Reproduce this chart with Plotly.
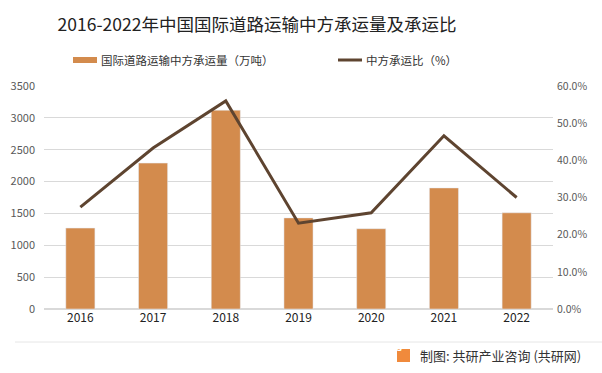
import plotly.graph_objects as go

years = ["2016", "2017", "2018", "2019", "2020", "2021", "2022"]
volume = [1270, 2290, 3120, 1430, 1260, 1900, 1510]          # 万吨
share = [27.4, 43.3, 56.0, 23.1, 25.9, 46.6, 30.0]           # %

left_ticks = [0, 500, 1000, 1500, 2000, 2500, 3000, 3500]
right_ticks = [0, 10, 20, 30, 40, 50, 60]
right_labels = ["0.0%", "10.0%", "20.0%", "30.0%", "40.0%", "50.0%", "60.0%"]

bar_name = "国际道路运输中方承运量（万吨）"
line_name = "中方承运比（%）"

BAR = "#D38B4D"
LINE = "#5E4430"
FONT = "Noto Sans CJK SC, Noto Sans, sans-serif"

fig = go.Figure()
fig.add_trace(go.Bar(x=years, y=volume, name=bar_name, marker_color=BAR, yaxis="y",
                     showlegend=False))
fig.add_trace(go.Scatter(x=years, y=share, name=line_name, mode="lines",
                         line=dict(color=LINE, width=3), yaxis="y2", showlegend=False))

W, H = 602, 373
x0, x1 = 44, 553
y_top, y_bot = 86, 309


def px(x):
    return x / W


def py(y):
    return 1 - y / H


fig.update_layout(
    width=W, height=H,
    margin=dict(l=0, r=0, t=0, b=0),
    paper_bgcolor="white", plot_bgcolor="white",
    font=dict(family=FONT, color="#595959", size=11),
    bargap=0.6,
    showlegend=False,
    title=dict(text="2016-2022年中国国际道路运输中方承运量及承运比",
               x=px(257), xanchor="center", y=py(25), yanchor="middle",
               font=dict(size=17.5, color="#222222", family=FONT)),
    xaxis=dict(domain=[px(x0), px(x1)], showgrid=False, showline=False, ticks="",
               tickfont=dict(size=12, color="#222222"), anchor="y", automargin=False),
    yaxis=dict(domain=[py(y_bot), py(y_top)], range=[0, 3500],
               tickvals=left_ticks, showgrid=True, gridcolor="#D9D9D9", gridwidth=1,
               zeroline=True, zerolinecolor="#D9D9D9", showline=False, ticks="",
               tickfont=dict(size=11, color="#595959"), ticklabelstandoff=8,
               automargin=False),
    yaxis2=dict(overlaying="y", side="right", range=[0, 60], tickvals=right_ticks,
                ticktext=right_labels, showgrid=False, zeroline=False, showline=False,
                ticks="", tickfont=dict(size=10.5, color="#595959"), ticklabelstandoff=3,
                automargin=False),
)

# manual legend
fig.add_shape(type="rect", xref="paper", yref="paper", x0=px(73), x1=px(97),
              y0=py(63), y1=py(57), fillcolor=BAR, line=dict(width=0))
fig.add_annotation(xref="paper", yref="paper", x=px(99), y=py(60), xanchor="left",
                   yanchor="middle", text=bar_name, showarrow=False,
                   font=dict(size=11.5, color="#333333", family=FONT))
fig.add_shape(type="line", xref="paper", yref="paper", x0=px(338), x1=px(362),
              y0=py(60), y1=py(60), line=dict(color=LINE, width=3))
fig.add_annotation(xref="paper", yref="paper", x=px(364), y=py(60), xanchor="left",
                   yanchor="middle", text=line_name, showarrow=False,
                   font=dict(size=11.5, color="#333333", family=FONT))

# footer
fig.add_shape(type="line", xref="paper", yref="paper", x0=px(15), x1=1, y0=py(342),
              y1=py(342), line=dict(color="#E6E6E6", width=1))
fig.add_shape(type="rect", xref="paper", yref="paper", x0=px(397), x1=px(410),
              y0=py(362), y1=py(349), fillcolor="#F08A3C", line=dict(width=0))
fig.add_annotation(xref="paper", yref="paper", x=px(403.5), y=py(355.5), text="<b>G</b>",
                   showarrow=False, font=dict(size=10, color="white", family=FONT))
fig.add_annotation(xref="paper", yref="paper", x=px(418), y=py(355), xanchor="left",
                   yanchor="middle", text="制图: 共研产业咨询 (共研网)", showarrow=False,
                   font=dict(size=13, color="#333333", family=FONT))

fig.write_html("out.html", config={"displayModeBar": False},
               post_script="document.body.style.margin='0';")
